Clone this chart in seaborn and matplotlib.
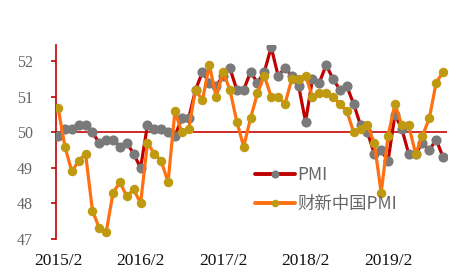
import matplotlib
matplotlib.use("Agg")
import matplotlib.pyplot as plt
import seaborn as sns
import pandas as pd
import numpy as np

# Monthly data 2015/2 .. 2019/10
pmi = [49.9, 50.1, 50.1, 50.2, 50.2, 50.0, 49.7, 49.8, 49.8, 49.6, 49.7,
       49.4, 49.0, 50.2, 50.1, 50.1, 50.0, 49.9, 50.4, 50.4, 51.2, 51.7, 51.4,
       51.3, 51.6, 51.8, 51.2, 51.2, 51.7, 51.4, 51.7, 52.4, 51.6, 51.8, 51.6,
       51.3, 50.3, 51.5, 51.4, 51.9, 51.5, 51.2, 51.3, 50.8, 50.2, 50.0, 49.4,
       49.5, 49.2, 50.5, 50.1, 49.4, 49.4, 49.7, 49.5, 49.8, 49.3]
caixin = [50.7, 49.6, 48.9, 49.2, 49.4, 47.8, 47.3, 47.2, 48.3, 48.6, 48.2,
          48.4, 48.0, 49.7, 49.4, 49.2, 48.6, 50.6, 50.0, 50.1, 51.2, 50.9, 51.9,
          51.0, 51.7, 51.2, 50.3, 49.6, 50.4, 51.1, 51.6, 51.0, 51.0, 50.8, 51.5,
          51.5, 51.6, 51.0, 51.1, 51.1, 51.0, 50.8, 50.6, 50.0, 50.1, 50.2, 49.7,
          48.3, 49.9, 50.8, 50.2, 50.2, 49.4, 49.9, 50.4, 51.4, 51.7]
series_names = ["PMI", "财新中国PMI"]
tick_labels = ["2015/2", "2016/2", "2017/2", "2018/2", "2019/2"]
tick_pos = [0, 12, 24, 36, 48]
y_ticks = [47, 48, 49, 50, 51, 52]

sns.set_style("white")
plt.rcParams['font.family'] = ['Noto Sans CJK SC', 'DejaVu Sans']

months = np.arange(len(pmi))
df = pd.DataFrame({"m": months, "pmi": pmi, "caixin": caixin})

fig = plt.figure(figsize=(4.62, 2.78), dpi=100)
ax = fig.add_axes([56/462, 1-239/278, (446.5-56)/462, (239-45)/278])

red = "#C00000"
gray = "#7A7A7A"
orange = "#FF7010"
gold = "#BF9A10"

ax.axhline(50, color="#D02A2A", lw=1.4, zorder=1)

sns.lineplot(data=df, x="m", y="pmi", ax=ax, color=red, lw=2.3,
             marker="o", markersize=7.3, markerfacecolor=gray,
             markeredgewidth=0, label=series_names[0], zorder=3)
sns.lineplot(data=df, x="m", y="caixin", ax=ax, color=orange, lw=2.3,
             marker="o", markersize=6.8, markerfacecolor=gold,
             markeredgewidth=0, label=series_names[1], zorder=4)

ax.set_xlim(-0.3, 56.5)
ax.set_ylim(47, 52.46)
ax.set_xlabel("")
ax.set_ylabel("")

for s in ["top", "right", "bottom"]:
    ax.spines[s].set_visible(False)
ax.spines["left"].set_color(red)
ax.spines["left"].set_linewidth(1.2)

ax.set_yticks(y_ticks)
ax.set_yticklabels([str(v) for v in y_ticks])
ax.tick_params(axis="y", direction="out", length=3.6, width=1.2, color=red,
               pad=13, labelsize=11.5, labelcolor="#666666", left=True)
ax.set_xticks(tick_pos)
ax.set_xticklabels(tick_labels)
ax.tick_params(axis="x", length=0, pad=10, labelsize=12.5, labelcolor="#111111")
for lab in ax.get_yticklabels() + ax.get_xticklabels():
    lab.set_fontfamily(["Liberation Serif", "DejaVu Serif"])

leg = ax.legend(loc="upper left", bbox_to_anchor=(255/462, 1-166/278),
                bbox_transform=fig.transFigure, frameon=False,
                borderpad=0, borderaxespad=0, handlelength=2.3,
                handletextpad=0.15, labelspacing=0.62, markerscale=0.8,
                prop={"family": ["Noto Sans CJK SC", "DejaVu Sans"], "size": 12.5})
for t in leg.get_texts():
    t.set_color("#666666")
for h in leg.legend_handles:
    h.set_linewidth(2.8)

fig.savefig("out.png", dpi=100)
